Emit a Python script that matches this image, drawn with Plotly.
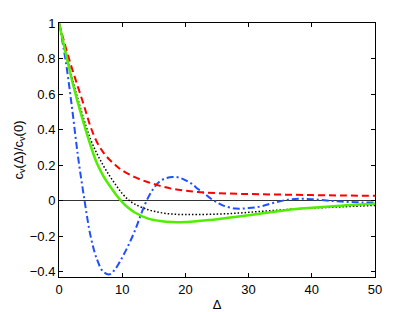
import plotly.graph_objects as go

# x positions (Delta) for each series
x_red = [0, 1, 2, 3, 4, 5, 6, 7, 8, 9, 10, 12, 14, 16, 18, 20, 22, 25, 30, 35, 40, 45, 50]
y_red = [1, 0.87, 0.75, 0.64, 0.53, 0.415, 0.33, 0.272, 0.23, 0.198, 0.17, 0.132, 0.105, 0.083, 0.066, 0.056, 0.048, 0.042, 0.037, 0.034, 0.031, 0.029, 0.027]

x_dot = [0, 1, 2, 3, 4, 5, 6, 7, 8, 9, 10, 11, 12, 14, 16, 18, 20, 22, 25, 27.5, 30, 32.5, 35, 37.5, 40, 43.5, 46, 50]
y_dot = [1, 0.85, 0.70, 0.57, 0.45, 0.345, 0.265, 0.198, 0.14, 0.088, 0.04, 0.004, -0.02, -0.05, -0.067, -0.076, -0.078, -0.078, -0.076, -0.072, -0.066, -0.059, -0.053, -0.046, -0.042, -0.037, -0.033, -0.027]

x_green = [0, 1, 2, 3, 4, 5, 6, 7, 8, 9, 10, 11, 12, 14, 16, 18, 20, 22, 25, 27.5, 30, 32.5, 35, 37.5, 40, 43.5, 46, 50]
y_green = [1, 0.84, 0.685, 0.55, 0.425, 0.31, 0.21, 0.14, 0.085, 0.035, -0.008, -0.042, -0.067, -0.10, -0.115, -0.121, -0.12, -0.115, -0.105, -0.093, -0.082, -0.07, -0.058, -0.047, -0.040, -0.032, -0.025, -0.017]

x_blue = [0, 1, 2, 3, 4, 5, 6, 7, 8, 9, 10, 11, 12, 13, 14, 15, 16, 17, 18, 19, 20, 21, 22, 23, 24, 25, 26, 28, 30, 32, 34, 36, 38, 40, 42, 44, 46, 48, 50]
y_blue = [1, 0.80, 0.54, 0.25, 0.01, -0.20, -0.33, -0.40, -0.415, -0.38, -0.32, -0.25, -0.17, -0.075, 0.01, 0.07, 0.11, 0.127, 0.133, 0.13, 0.115, 0.095, 0.065, 0.04, 0.012, -0.01, -0.028, -0.045, -0.042, -0.032, -0.012, 0.004, 0.01, 0.008, 0.002, -0.004, -0.008, -0.01, -0.011]

x_ticks = [0, 10, 20, 30, 40, 50]
y_ticks = [-0.4, -0.2, 0, 0.2, 0.4, 0.6, 0.8, 1]
y_tick_text = ["\u22120.4", "\u22120.2", "0", "0.2", "0.4", "0.6", "0.8", "1"]

FONT = "Liberation Sans, Arial, sans-serif"

fig = go.Figure()
fig.add_trace(go.Scatter(x=x_dot, y=y_dot, mode="lines", line_shape="spline",
                         line=dict(color="black", width=1.5, dash="1.5px,2px")))
fig.add_trace(go.Scatter(x=x_blue, y=y_blue, mode="lines", line_shape="spline",
                         line=dict(color="#1f4fff", width=2, dash="7px,3px,2px,3px")))
fig.add_trace(go.Scatter(x=x_red, y=y_red, mode="lines", line_shape="spline",
                         line=dict(color="#ff0000", width=2, dash="7px,4px")))
fig.add_trace(go.Scatter(x=x_green, y=y_green, mode="lines", line_shape="spline",
                         line=dict(color="#50ee00", width=2.5)))

axis_common = dict(showgrid=False, showline=True, linecolor="black", linewidth=1,
                   mirror="ticks", ticks="inside", ticklen=4, tickcolor="black",
                   automargin=False,
                   tickfont=dict(family=FONT, size=13, color="black"))

fig.update_layout(
    width=415, height=312,
    margin=dict(l=59, r=40, t=23, b=35, autoexpand=False),
    paper_bgcolor="white", plot_bgcolor="white",
    showlegend=False,
    xaxis=dict(range=[0, 50], tickvals=x_ticks,
               title=dict(text="\u0394", standoff=4,
                          font=dict(family=FONT, size=13, color="black")),
               zeroline=False, **axis_common),
    yaxis=dict(range=[-0.43, 1], tickvals=y_ticks, ticktext=y_tick_text,
               title=dict(text="c<sub>v</sub>(\u0394)/c<sub>v</sub>(0)", standoff=3,
                          font=dict(family=FONT, size=13, color="black")),
               zeroline=True, zerolinecolor="#333333", zerolinewidth=1.2, **axis_common),
)

fig.write_html("out.html", config={"displayModeBar": False},
               post_script="document.body.style.margin='0px';document.body.style.overflow='hidden';")
